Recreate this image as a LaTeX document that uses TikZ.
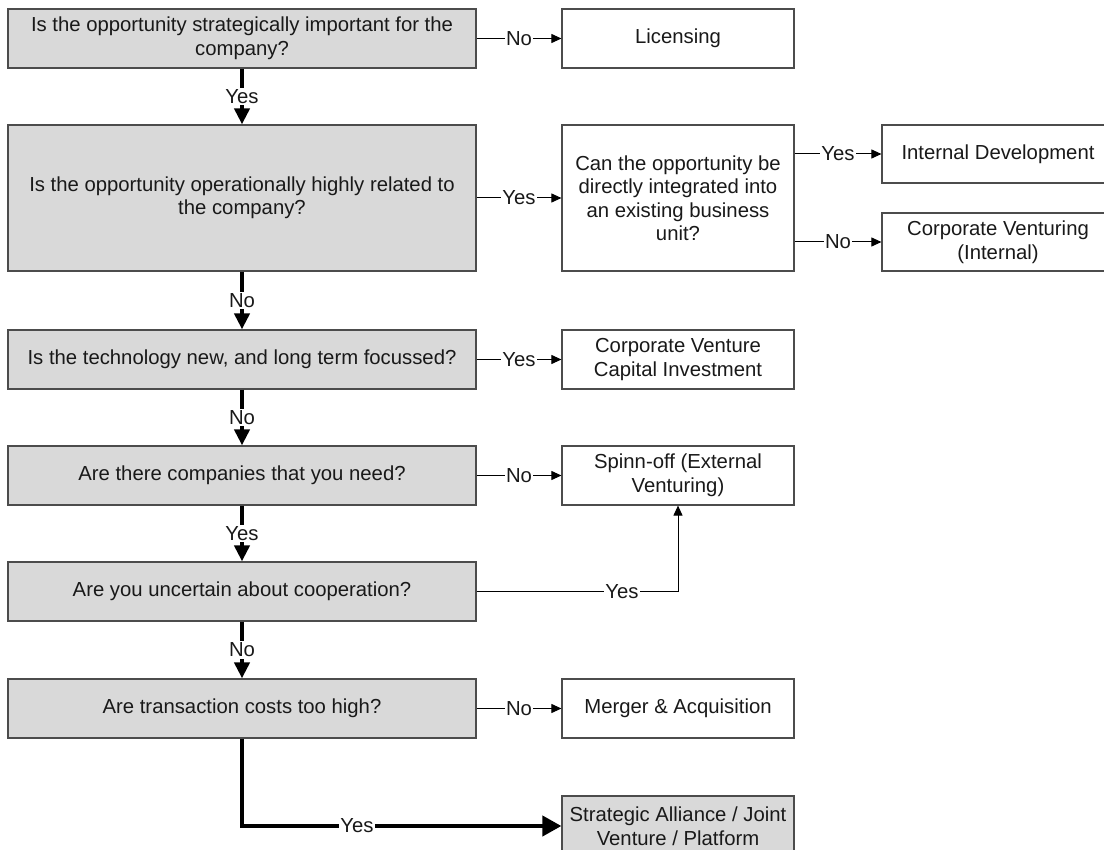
\documentclass[tikz,border=0pt]{standalone}
\usepackage{fontspec}
\setmainfont{Liberation Sans}
\usetikzlibrary{arrows.meta}
\begin{document}
\begin{tikzpicture}[x=1pt,y=-1pt,
  every node/.style={font=\fontsize{20.3}{23.5}\selectfont, text=black!90},
  gbox/.style={draw=black!70, line width=1.2pt, fill=gray!30, minimum width=468pt, align=center, inner sep=0pt},
  wbox/.style={draw=black!70, line width=1.2pt, fill=white, minimum width=232pt, align=center, inner sep=0pt},
  tharrow/.style={line width=4pt, -{Triangle[width=15pt,length=16pt]}},
  tnarrow/.style={line width=1pt, -{Triangle[width=9pt,length=10pt]}},
  lbl/.style={fill=white, inner sep=1.5pt}]
\clip (0,0) rectangle (1104,850);
\fill[white] (0,0) rectangle (1104,850);
% left column questions
\node[gbox, minimum height=59pt] (q1) at (242,38.5) {Is the opportunity strategically important for the\\company?};
\node[gbox, minimum height=146pt] (q2) at (242,198) {Is the opportunity operationally highly related to\\the company?};
\node[gbox, minimum height=59pt] (q3) at (242,359.5) {Is the technology new, and long term focussed?};
\node[gbox, minimum height=59pt] (q4) at (242,475.5) {Are there companies that you need?};
\node[gbox, minimum height=59pt] (q5) at (242,591.5) {Are you uncertain about cooperation?};
\node[gbox, minimum height=59pt] (q6) at (242,708.5) {Are transaction costs too high?};
% right column
\node[wbox, minimum height=59pt] (lic) at (678,38.5) {Licensing};
\node[wbox, minimum height=146pt] (can) at (678,198) {Can the opportunity be\\directly integrated into\\an existing business\\unit?};
\node[wbox, minimum height=59pt] (cvc) at (678,359.5) {Corporate Venture\\Capital Investment};
\node[wbox, minimum height=59pt] (spin) at (678,475.5) {Spinn-off (External\\Venturing)};
\node[wbox, minimum height=59pt] (ma) at (678,708.5) {Merger \& Acquisition};
\node[gbox, minimum width=232pt, minimum height=60pt] (sa) at (678,826) {Strategic Alliance / Joint\\Venture / Platform};
% far right
\node[wbox, minimum height=58pt] (idev) at (998,154) {Internal Development};
\node[wbox, minimum height=58pt] (cv) at (998,242) {Corporate Venturing\\(Internal)};
% vertical thick arrows
\draw[tharrow] (q1) -- node[lbl]{Yes} (q2);
\draw[tharrow] (q2) -- node[lbl]{No} (q3);
\draw[tharrow] (q3) -- node[lbl]{No} (q4);
\draw[tharrow] (q4) -- node[lbl]{Yes} (q5);
\draw[tharrow] (q5) -- node[lbl]{No} (q6);
\draw[line width=4pt, -{Triangle[width=20pt,length=19pt]}] (q6.south) |- node[lbl, pos=0.68]{Yes} (sa.west);
% thin arrows
\draw[tnarrow] (q1) -- node[lbl]{No} (lic);
\draw[tnarrow] (q2) -- node[lbl]{Yes} (can);
\draw[tnarrow] (can.east |- idev) -- node[lbl]{Yes} (idev);
\draw[tnarrow] (can.east |- cv) -- node[lbl]{No} (cv);
\draw[tnarrow] (q3) -- node[lbl]{Yes} (cvc);
\draw[tnarrow] (q4) -- node[lbl]{No} (spin);
\draw[tnarrow] (q5) -| node[lbl, pos=0.361]{Yes} (spin);
\draw[tnarrow] (q6) -- node[lbl]{No} (ma);
\end{tikzpicture}
\end{document}
